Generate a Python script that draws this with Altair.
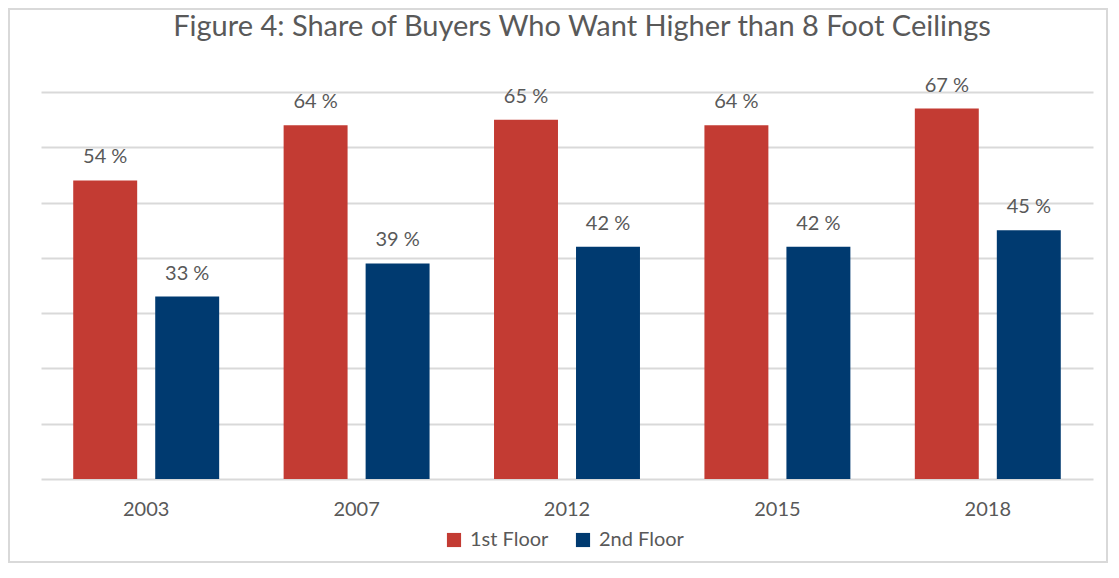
import altair as alt
import pandas as pd

years = ["2003", "2007", "2012", "2015", "2018"]
first_floor = [54, 64, 65, 64, 67]
second_floor = [33, 39, 42, 42, 45]
series_names = ["1st Floor", "2nd Floor"]
colors = ["#C33B33", "#003A70"]
title_text = "Figure 4: Share of Buyers Who Want Higher than 8 Foot Ceilings"

rows = []
for i, y in enumerate(years):
    rows.append({"year": y, "series": series_names[0], "value": first_floor[i], "label": f"{first_floor[i]} %"})
    rows.append({"year": y, "series": series_names[1], "value": second_floor[i], "label": f"{second_floor[i]} %"})
df = pd.DataFrame(rows)

FONT = "Lato"
GRAY = "#595959"

x_enc = alt.X("year:N", sort=years, title=None,
              scale=alt.Scale(paddingInner=0, paddingOuter=0),
              axis=alt.Axis(labelAngle=0, labelFontSize=20, labelColor=GRAY, labelFont=FONT,
                            domain=False, ticks=False, labelPadding=20, grid=False))
xo_enc = alt.XOffset("series:N", sort=series_names,
                     scale=alt.Scale(paddingInner=0.22, paddingOuter=0.393))
y_enc = alt.Y("value:Q", title=None,
              scale=alt.Scale(domain=[0, 70], nice=False),
              axis=alt.Axis(values=[0, 10, 20, 30, 40, 50, 60, 70], labels=False, ticks=False,
                            domain=False, grid=True, gridColor="#D9D9D9", gridWidth=2))

bars = alt.Chart(df).mark_bar().encode(
    x=x_enc, xOffset=xo_enc, y=y_enc,
    color=alt.Color("series:N", sort=series_names,
                    scale=alt.Scale(domain=series_names, range=colors),
                    legend=alt.Legend(title=None, orient="none", direction="horizontal",
                                      legendX=403, legendY=438, symbolType="square",
                                      symbolSize=200, symbolStrokeWidth=0, labelFontSize=20,
                                      labelColor=GRAY, labelFont=FONT, columnPadding=24,
                                      labelOffset=6)),
)

labels = alt.Chart(df).mark_text(baseline="alphabetic", dy=-17, fontSize=20, color=GRAY, font=FONT).encode(
    x=alt.X("year:N", sort=years), xOffset=alt.XOffset("series:N", sort=series_names), y="value:Q",
    text="label:N",
)

border = alt.Chart(df).mark_rect(fill=None, stroke="#D9D9D9", strokeWidth=2).encode(
    x=alt.value(-32), x2=alt.value(1066), y=alt.value(-83), y2=alt.value(470)
)

title = alt.Chart(pd.DataFrame({"t": [title_text]})).mark_text(
    fontSize=29, font=FONT, color=GRAY, align="center", baseline="alphabetic"
).encode(x=alt.value(541), y=alt.value(-56), text="t:N")

chart = alt.layer(border, bars, labels, title).properties(
    width=1052, height=387,
    padding={"left": 33, "top": 84, "right": 15, "bottom": 85},
    autosize=alt.AutoSizeParams(type="none"),
).configure_view(stroke=None)

chart.save("out.html", embed_options={"renderer": "svg", "actions": False})
